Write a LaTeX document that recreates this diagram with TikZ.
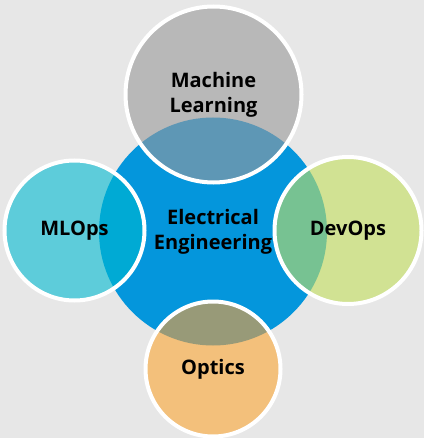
\documentclass[tikz,border=0pt]{standalone}
\usepackage{fontspec}
\setsansfont{Open Sans}
\usepackage{xcolor}
\definecolor{canvas}{HTML}{E7E7E7}
\definecolor{hubblue}{HTML}{0496DC}
\definecolor{mlgray}{HTML}{B8B8B8}
\definecolor{mlmix}{HTML}{5E97B5}
\definecolor{opscyan}{HTML}{5DCCDA}
\definecolor{opsmix}{HTML}{00AAD4}
\definecolor{devgreen}{HTML}{D1E293}
\definecolor{devmix}{HTML}{77C292}
\definecolor{optorange}{HTML}{F3C07B}
\definecolor{optmix}{HTML}{989A78}
\usepackage{tikz}
\tikzset{
    rim/.style = {draw=white, line width=4pt},
    lbl/.style = {align=center, text=black, font=\sffamily\bfseries\fontsize{20}{25}\selectfont},
}

\begin{document}
\begin{tikzpicture}[x=1pt, y=-1pt]
        % canvas
        \fill[canvas] (0,0) rectangle (424,438);
        \useasboundingbox (0,0) rectangle (424,438);
        \coordinate (ee) at (213,231.5);
        \coordinate (ml) at (213.5,94.5);
        \coordinate (mlops) at (74.5,230.5);
        \coordinate (devops) at (348,230.5);
        \coordinate (optics) at (213,369);
        % central circle
        \fill[hubblue] (ee) circle (114);
        % outer circles
        \fill[mlgray] (ml) circle (88);
        \fill[opscyan] (mlops) circle (70);
        \fill[devgreen] (devops) circle (73.5);
        \fill[optorange] (optics) circle (67.5);
        % overlaps with the central circle
        \begin{scope}
          \clip (ee) circle (114);
          \fill[mlmix] (ml) circle (88);
          \fill[opsmix] (mlops) circle (70);
          \fill[devmix] (devops) circle (73.5);
          \fill[optmix] (optics) circle (67.5);
        \end{scope}
        % white rims
        \draw[rim] (ml) circle (88);
        \draw[rim] (mlops) circle (70);
        \draw[rim] (devops) circle (73.5);
        \draw[rim] (optics) circle (67.5);
        % labels
        \node[lbl] (eetext) at (ee) {Electrical\\Engineering};
        \node[lbl] (mltext) at (ml) {Machine\\Learning};
        \node[lbl] (mlopstext) at (mlops) {MLOps};
        \node[lbl] (devopstext) at (devops) {DevOps};
        \node[lbl] (opticstext) at (optics) {Optics};
      \end{tikzpicture}
\end{document}
